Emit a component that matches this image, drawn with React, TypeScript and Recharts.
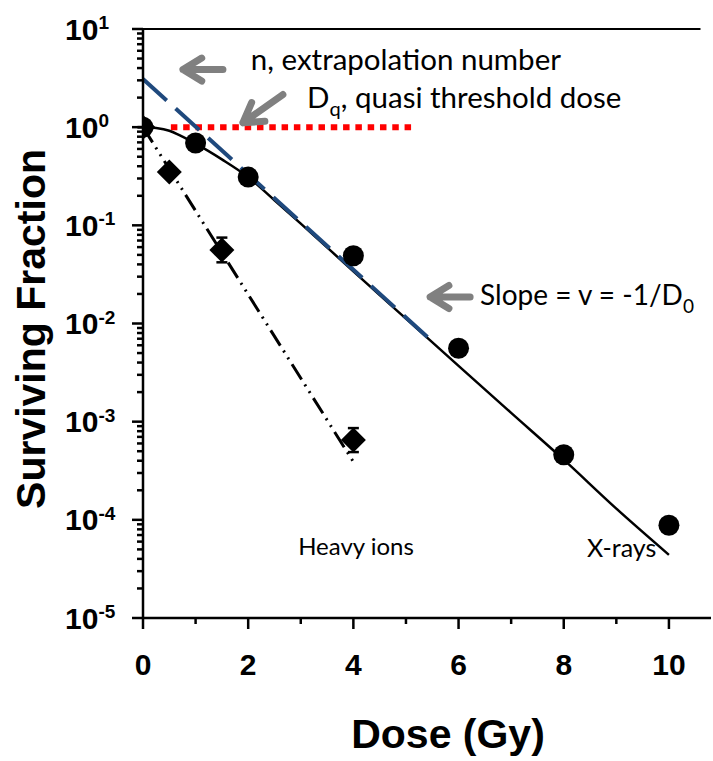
import React from "react";
import {
  ComposedChart,
  Line,
  Scatter,
  XAxis,
  YAxis,
  ReferenceLine,
  ReferenceDot,
  ErrorBar,
} from "recharts";

// measured points
const xrayDose = [0, 1, 2, 4, 6, 8, 10];
const xraySF = [1.0, 0.69, 0.31, 0.049, 0.0056, 0.00046, 0.000088];

const ionDose = [0, 0.5, 1.5, 4];
const ionSF = [1.0, 0.35, 0.056, 0.00065];
const ionErrLow = [0, 0, 0.014, 0.00016];
const ionErrHigh = [0, 0, 0.019, 0.00021];

// fitted curves
const xrayFitDose = [0, 0.25, 0.5, 0.75, 1, 1.5, 2, 2.5, 3, 4, 5, 6, 7, 8, 9, 10];
const xrayFitSF = [1.0, 0.98, 0.92, 0.8, 0.68, 0.47, 0.31, 0.18, 0.104, 0.034, 0.0112, 0.0037, 0.00123, 0.00041, 0.00013, 0.000044];

const ionFitDose = [0, 4];
const ionFitSF = [1.0, 0.00039];

// extrapolated straight part (n) and Dq line
const extrapDose = [0, 5.42];
const extrapSF = [3.1, 0.0072];
const dqDose = [0.53, 5.15];
const dqSF = [1, 1];

// axes
const xTicks = [0, 1, 2, 3, 4, 5, 6, 7, 8, 9, 10];
const yMajorTicks = [1e-5, 1e-4, 1e-3, 1e-2, 1e-1, 1, 10];
const yMinorMult = [2, 3, 4, 5, 6, 7, 8, 9];
const yTicks = [
  ...yMajorTicks,
  ...yMajorTicks.slice(0, -1).flatMap((d) => yMinorMult.map((m) => m * d)),
].sort((a, b) => a - b);

// annotation arrows [tail, tip]
const arrowN = [{ x: 1.52, y: 3.86 }, { x: 0.76, y: 3.86 }];
const arrowDq = [{ x: 2.66, y: 2.15 }, { x: 1.9, y: 1.11 }];
const arrowSlope = [{ x: 6.22, y: 0.0186 }, { x: 5.46, y: 0.0186 }];

const toPts = (xs: number[], ys: number[]) => xs.map((x, i) => ({ dose: x, sf: ys[i] }));

const xrayPts = toPts(xrayDose, xraySF);
const ionPts = ionDose.map((x, i) => ({ dose: x, sf: ionSF[i], err: [ionErrLow[i], ionErrHigh[i]] }));
const xrayFit = toPts(xrayFitDose, xrayFitSF);
const ionFit = toPts(ionFitDose, ionFitSF);
const extrap = toPts(extrapDose, extrapSF);
const dq = toPts(dqDose, dqSF);

const AXIS_FONT = "'Liberation Sans', Arial, sans-serif";
const NOTE_FONT = "Lato, 'Open Sans', sans-serif";

const isMajor = (v: number) => Math.abs(Math.log10(v) - Math.round(Math.log10(v))) < 1e-6;

const XTick = (props: any) => {
  const { x, y, payload } = props;
  const v = payload.value;
  const major = v % 2 === 0;
  return (
    <g>
      <line x1={x} x2={x} y1={y} y2={y + (major ? 11 : 6)} stroke="#000" strokeWidth={2.5} />
      {major && (
        <text x={x} y={y + 57} textAnchor="middle" fontFamily={AXIS_FONT} fontWeight="bold" fontSize={30} fill="#000">
          {v}
        </text>
      )}
    </g>
  );
};

const YTick = (props: any) => {
  const { x, y, payload } = props;
  const v = payload.value;
  const major = isMajor(v);
  const exp = Math.round(Math.log10(v));
  return (
    <g>
      <line x1={x - (major ? 11 : 6)} x2={x} y1={y} y2={y} stroke="#000" strokeWidth={2.5} />
      {major && (
        <text x={x - 78} y={y + 10.5} textAnchor="start" fontFamily={AXIS_FONT} fontWeight="bold" fill="#000">
          <tspan fontSize={30}>10</tspan>
          <tspan fontSize={19} dy={-10.5}>{exp < 0 ? "-" + Math.abs(exp) : String(exp)}</tspan>
        </text>
      )}
    </g>
  );
};

const DoseTitle = () => (
  <text x={448} y={748} textAnchor="middle" fontFamily={AXIS_FONT} fontWeight="bold" fontSize={41} fill="#000">
    Dose (Gy)
  </text>
);

const SFTitle = () => (
  <text
    x={45}
    y={329}
    transform="rotate(-90, 45, 329)"
    textAnchor="middle"
    fontFamily={AXIS_FONT}
    fontWeight="bold"
    fontSize={41}
    fill="#000"
  >
    Surviving Fraction
  </text>
);

const Arrow = (props: any) => {
  const { x1, y1, x2, y2 } = props;
  const ang = Math.atan2(y2 - y1, x2 - x1);
  const len = 22;
  const spread = 0.55;
  const hx1 = x2 + len * Math.cos(ang + Math.PI - spread);
  const hy1 = y2 + len * Math.sin(ang + Math.PI - spread);
  const hx2 = x2 + len * Math.cos(ang + Math.PI + spread);
  const hy2 = y2 + len * Math.sin(ang + Math.PI + spread);
  return (
    <path
      d={`M${x1},${y1}L${x2},${y2}M${hx1},${hy1}L${x2},${y2}L${hx2},${hy2}`}
      stroke="#808080"
      strokeWidth={7}
      fill="none"
      strokeLinecap="round"
      strokeLinejoin="round"
    />
  );
};

const note = (main: string, sub?: string, rest?: string, size = 29.5) => (p: any) => {
  const { x, y } = p.viewBox;
  return (
    <text x={x} y={y} fontFamily={NOTE_FONT} fontSize={size} fill="#000">
      <tspan>{main}</tspan>
      {sub && (
        <tspan fontSize={size * 0.68} dy={8}>
          {sub}
        </tspan>
      )}
      {rest && <tspan dy={sub ? -8 : 0}>{rest}</tspan>}
    </text>
  );
};

const Circle = (p: any) => <circle cx={p.cx} cy={p.cy} r={10.5} fill="#000" />;
const Diamond = (p: any) => (
  <path
    d={`M${p.cx},${p.cy - 12.5}L${p.cx + 12.5},${p.cy}L${p.cx},${p.cy + 12.5}L${p.cx - 12.5},${p.cy}Z`}
    fill="#000"
  />
);

export default function App() {
  return (
    <div style={{ position: "absolute", left: 0, top: 0, width: 713, height: 761, background: "#fff" }}>
      <ComposedChart width={713} height={761} margin={{ top: 29, right: 2, bottom: 0, left: 0 }}>
        <XAxis
          type="number"
          dataKey="dose"
          domain={[0, 10.8]}
          ticks={xTicks}
          interval={0}
          height={143}
          tickSize={0}
          tickMargin={0}
          tickLine={false}
          tick={<XTick />}
          axisLine={{ stroke: "#000", strokeWidth: 2.5 }}
          allowDataOverflow
          label={DoseTitle}
        />
        <YAxis
          type="number"
          dataKey="sf"
          scale="log"
          domain={[1e-5, 10]}
          ticks={yTicks}
          interval={0}
          width={143}
          tickSize={0}
          tickMargin={0}
          tickLine={false}
          tick={<YTick />}
          axisLine={{ stroke: "#000", strokeWidth: 2.5 }}
          allowDataOverflow
          label={SFTitle}
        />
        <ReferenceLine
          segment={[{ x: 0, y: 10 }, { x: 10.6, y: 10 }]}
          stroke="#000"
          strokeWidth={2}
          ifOverflow="visible"
        />
        <Line
          data={dq}
          dataKey="sf"
          stroke="#FF0000"
          strokeWidth={6}
          strokeDasharray="6.5 5.8"
          dot={false}
          activeDot={false}
          isAnimationActive={false}
        />
        <Line
          data={ionFit}
          dataKey="sf"
          stroke="#000"
          strokeWidth={3}
          strokeDasharray="18 6 2 6 2 6"
          dot={false}
          activeDot={false}
          isAnimationActive={false}
        />
        <Line
          data={xrayFit}
          dataKey="sf"
          type="monotone"
          stroke="#000"
          strokeWidth={2.5}
          dot={false}
          activeDot={false}
          isAnimationActive={false}
        />
        <Line
          data={extrap}
          dataKey="sf"
          stroke="#1F497D"
          strokeWidth={4}
          strokeDasharray="32 12"
          dot={false}
          activeDot={false}
          isAnimationActive={false}
        />
        <Scatter data={ionPts} dataKey="sf" shape={Diamond} isAnimationActive={false}>
          <ErrorBar dataKey="err" direction="y" width={5.5} stroke="#000" strokeWidth={2.5} />
        </Scatter>
        <Scatter data={xrayPts} dataKey="sf" shape={Circle} isAnimationActive={false} />
        <ReferenceLine segment={arrowN} shape={Arrow} ifOverflow="visible" />
        <ReferenceLine segment={arrowDq} shape={Arrow} ifOverflow="visible" />
        <ReferenceLine segment={arrowSlope} shape={Arrow} ifOverflow="visible" />
        <ReferenceDot x={2.05} y={3.86} r={0} fill="none" stroke="none" ifOverflow="visible" label={note("n, extrapolation number")} />
        <ReferenceDot x={3.12} y={1.58} r={0} fill="none" stroke="none" ifOverflow="visible" label={note("D", "q", ", quasi threshold dose")} />
        <ReferenceDot x={6.41} y={0.01545} r={0} fill="none" stroke="none" ifOverflow="visible" label={note("Slope = v = -1/D", "0", undefined, 28)} />
        <ReferenceDot x={2.95} y={4.35e-5} r={0} fill="none" stroke="none" ifOverflow="visible" label={note("Heavy ions", undefined, undefined, 24)} />
        <ReferenceDot x={8.44} y={4.15e-5} r={0} fill="none" stroke="none" ifOverflow="visible" label={note("X-rays", undefined, undefined, 25)} />
      </ComposedChart>
    </div>
  );
}
